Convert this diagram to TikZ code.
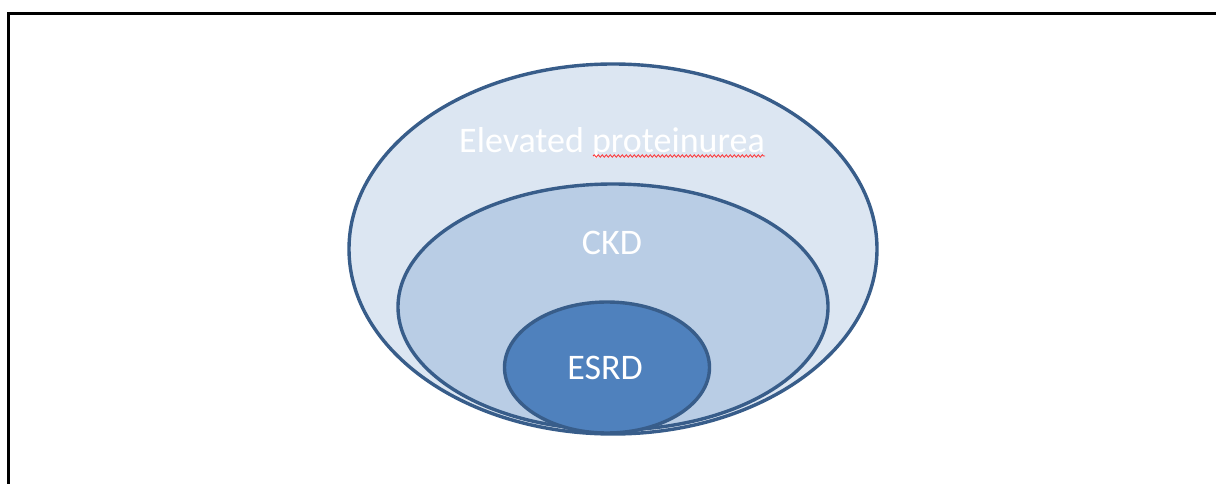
\documentclass[tikz,border=0pt]{standalone}
\usepackage{fontspec}
\setmainfont{Carlito}
\usetikzlibrary{shapes.geometric,decorations.pathmorphing}
\definecolor{outerfill}{HTML}{DCE6F2}
\definecolor{midfill}{HTML}{B9CDE5}
\definecolor{innerfill}{HTML}{4F81BD}
\definecolor{rim}{HTML}{385D8A}
\begin{document}
\begin{tikzpicture}[x=1pt,y=-1pt,
  ring/.style={ellipse, draw=rim, line width=3.4pt, inner sep=0pt},
  label/.style={text=white, font=\fontsize{36}{42}\selectfont, anchor=base, inner sep=0pt}]
\useasboundingbox (0,0) rectangle (1216,484);
% frame edges
\draw[line width=3pt] (8,484) -- (8,14) -- (1216,14);
% nested sets
\node[ring, fill=outerfill, minimum width=528pt, minimum height=370pt] (prot) at (613,249) {};
\node[ring, fill=midfill, minimum width=430pt, minimum height=246pt] (ckd) at (613,307) {};
\node[ring, fill=innerfill, minimum width=205pt, minimum height=131pt] (esrd) at (607,367.5) {};
% labels
\node[label] (tprot) at (612,153) {Elevated proteinurea};
\node[label] (tckd) at (612,254) {CKD};
\node[label] (tesrd) at (605,379) {ESRD};
% spell-check underline
\coordinate (sqa) at (593,156);
\coordinate (sqb) at (765,156);
\draw[red!80!white, line width=0.8pt, decorate, decoration={snake, amplitude=1.2pt, segment length=4pt}] (sqa) -- (sqb);
\end{tikzpicture}
\end{document}
